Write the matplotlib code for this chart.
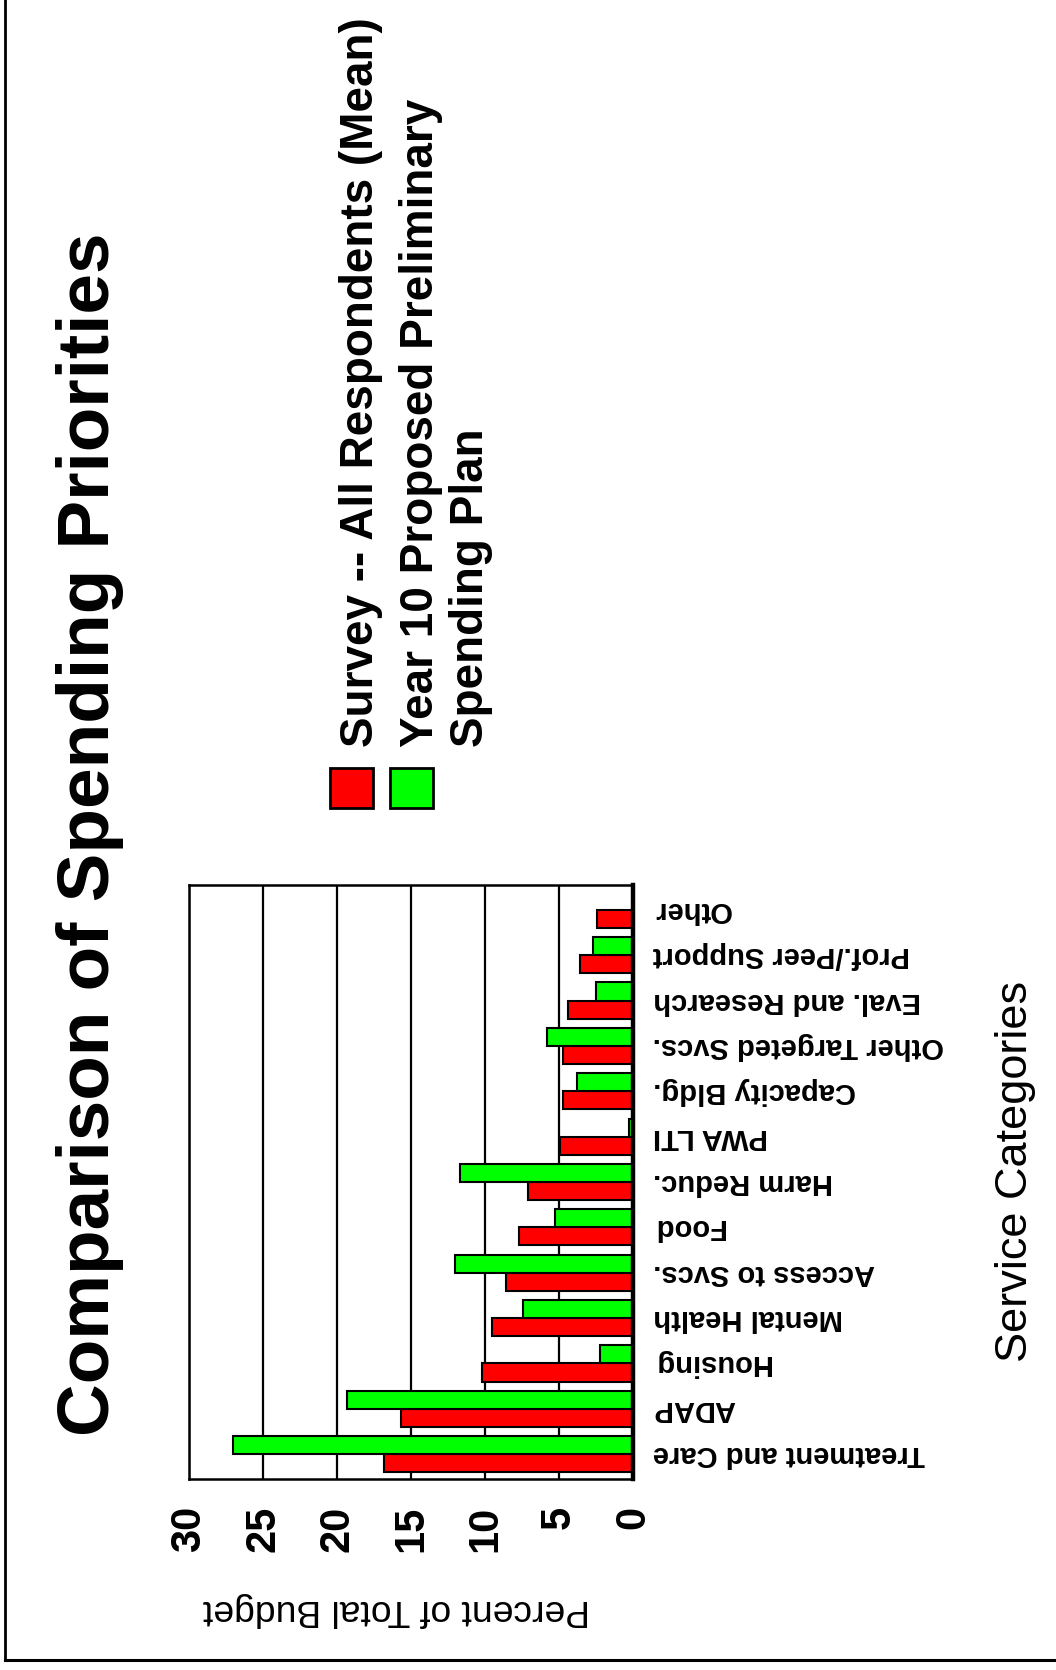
import numpy as np
import matplotlib
matplotlib.use("Agg")
import matplotlib.pyplot as plt
from matplotlib.patches import Rectangle
from matplotlib.lines import Line2D
import matplotlib.transforms as mtransforms

plt.rcParams['font.family'] = ['Liberation Sans', 'DejaVu Sans']

categories = ["Treatment and Care", "ADAP", "Housing", "Mental Health",
              "Access to Svcs.", "Food", "Harm Reduc.", "PWA LTI",
              "Capacity Bldg.", "Other Targeted Svcs.", "Eval. and Research",
              "Prof./Peer Support", "Other"]
survey = [16.8, 15.7, 10.2, 9.5, 8.6, 7.7, 7.1, 4.9, 4.7, 4.7, 4.4, 3.6, 2.4]
year10 = [27.0, 19.3, 2.2, 7.4, 12.0, 5.3, 11.7, 0.3, 3.8, 5.8, 2.5, 2.7, 0.0]
xticks = [0, 5, 10, 15, 20, 25, 30]

title = "Comparison of Spending Priorities"
legend_lines = ["Survey -- All Respondents (Mean)",
                "Year 10 Proposed Preliminary",
                "Spending Plan"]

W, H = 1056, 1670
fig = plt.figure(figsize=(W / 100, H / 100), dpi=100)

ax = fig.add_axes([189 / W, 1 - 1479 / H, 444 / W, 594 / H])
y = np.arange(len(categories))
ax.barh(y - 0.2, survey, height=0.4, color='#ff0000', edgecolor='black', linewidth=1.5, zorder=3)
ax.barh(y + 0.2, year10, height=0.4, color='#00ff00', edgecolor='black', linewidth=1.5, zorder=3)
ax.set_xlim(30, 0)
ax.set_ylim(-0.55, len(categories) - 0.45)
ax.set_xticks(xticks)
ax.set_xticklabels([str(t) for t in xticks], rotation=90, fontsize=30, fontweight='bold')
ax.set_yticks([])
ax.tick_params(axis='x', length=0, pad=19)
ax.grid(axis='x', color='black', linewidth=1.6, zorder=1)
ax.set_axisbelow(True)
for s in ['left', 'top', 'bottom']:
    ax.spines[s].set_linewidth(1.8)
ax.spines['right'].set_linewidth(3.2)
ax.spines['right'].set_zorder(5)

trans = mtransforms.blended_transform_factory(ax.transAxes, ax.transData)
for i, c in enumerate(categories):
    ax.text(1.045, i, c, transform=trans, rotation=180, ha='left', va='center',
            fontsize=21, fontweight='bold')

# axis labels
fig.text(396 / W, 1 - 1609 / H, "Percent of Total Budget", rotation=180,
         ha='center', va='center', fontsize=26.8)
fig.text(1016 / W, 1 - 1171 / H, "Service Categories", rotation=90,
         ha='center', va='center', fontsize=32.5)

# title
fig.text(90 / W, 1 - 834 / H, title, rotation=90, ha='center', va='center',
         fontsize=52.5, fontweight='bold')

# legend
fig.add_artist(Rectangle((330 / W, 1 - 808 / H), 43 / W, 40 / H, transform=fig.transFigure,
                         facecolor='#ff0000', edgecolor='black', linewidth=2))
fig.add_artist(Rectangle((390 / W, 1 - 808 / H), 43 / W, 40 / H, transform=fig.transFigure,
                         facecolor='#00ff00', edgecolor='black', linewidth=2))
for bx, txt in zip([373, 433, 483], legend_lines):
    fig.text(bx / W, 1 - 747 / H, txt, rotation=90, rotation_mode='anchor',
             ha='left', va='baseline', fontsize=33, fontweight='bold')

# page border
fig.add_artist(Line2D([5 / W, 5 / W], [1 - 1660 / H, 1.0], transform=fig.transFigure,
                      color='black', linewidth=2))
fig.add_artist(Line2D([5 / W, 1.0], [1 - 1660 / H, 1 - 1660 / H], transform=fig.transFigure,
                      color='black', linewidth=2.2))

fig.savefig('out.png', dpi=100)
